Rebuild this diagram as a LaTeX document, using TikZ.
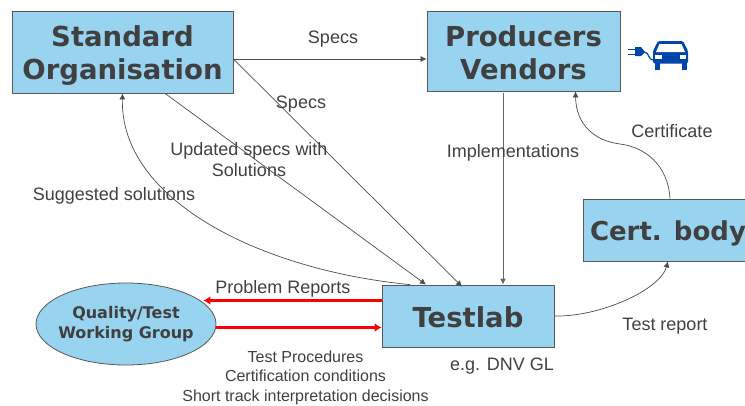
\documentclass[tikz,border=0pt]{standalone}
\usepackage{fontspec}
\setmainfont{Liberation Sans}
\newfontfamily\boxfont{DejaVu Sans}
\usepackage{xcolor}
\usetikzlibrary{shapes, arrows, arrows.meta, positioning, calc}
\definecolor{Boxblue}{RGB}{152, 212, 240}
\definecolor{Inktext}{RGB}{64, 64, 64}
\definecolor{Carblue}{RGB}{0, 70, 170}
\tikzset{
  bigbox/.style={draw=black!65, thick, fill=Boxblue, align=center, text=Inktext, font=\boxfont\bfseries\fontsize{27.5}{33}\selectfont, inner sep=0pt},
  groupbox/.style={ellipse, draw=black!65, thick, fill=Boxblue, align=center, text=Inktext, font=\boxfont\bfseries\fontsize{16}{20}\selectfont, inner xsep=-5pt, inner ysep=0pt},
  flow/.style={draw=black!70, line width=0.7pt, -{Latex[length=6pt,width=6pt]}},
  redflow/.style={draw=red, line width=2.6pt, -{Latex[length=7pt,width=9pt]}},
  lbl/.style={text=Inktext, font=\fontsize{18}{21}\selectfont, align=center, inner sep=0pt},
  smalllbl/.style={text=Inktext, font=\fontsize{16}{19.5}\selectfont, align=center, inner sep=0pt},
}
\begin{document}
\begin{tikzpicture}[x=1pt, y=-1pt]
  \useasboundingbox (0,0) rectangle (745,405);
  % Boxes
  \node[bigbox, minimum width=221pt, minimum height=82pt] (standard) at (122.5,52) {\rule{0pt}{28.5pt}Standard\\Organisation};
  \node[bigbox, minimum width=193pt, minimum height=80pt] (producers) at (523.5,51) {\rule{0pt}{24pt}Producers\\Vendors};
  \node[bigbox, minimum width=172pt, minimum height=62pt] (testlab) at (468,316) {\rule{0pt}{24pt}Testlab};
  \node[bigbox, minimum width=170pt, minimum height=62pt, font=\boxfont\bfseries\fontsize{26}{31}\selectfont] (cert) at (668,230) {\rule{0pt}{26pt}Cert. body};
  \node[groupbox, minimum width=180pt, minimum height=82pt] (group) at (126,324) {Quality/Test\\Working Group};
  % Arrows
  \draw[flow] ([yshift=-7pt]standard.east) -- ([yshift=-8pt]producers.west);
  \draw[flow] ([yshift=-7pt]standard.east) -- ([xshift=-6pt,yshift=-2pt]testlab.north);
  \draw[flow] ([xshift=42.5pt]standard.south) -- ([xshift=-42pt]testlab.north);
  \draw[flow] ([xshift=-58pt]testlab.north) .. controls (260,270) and (120,200) .. (standard.south);
  \draw[flow, line width=1pt, draw=black!60] ([xshift=-20.5pt,yshift=-2pt]producers.south) -- ([xshift=35pt]testlab.north);
  \draw[flow] ([xshift=2pt]cert.north) .. controls (668,165) and (645,147) .. (620,144) .. controls (595,141) and (576,125) .. ([xshift=52pt]producers.south);
  \draw[flow] (testlab.east) .. controls (600,317) and (660,290) .. (cert.south);
  \draw[redflow] ([yshift=15.5pt]testlab.west) -- ([xshift=-13pt,yshift=23.5pt]group.east);
  \draw[redflow] ([yshift=-3.5pt]group.east) -- ([yshift=-11.5pt]testlab.west);
  % Labels
  \node[lbl] (specsa) at (333,39) {Specs};
  \node[lbl] (specsb) at (301,104) {Specs};
  \node[lbl] (updated) at (249,160) {Updated specs with\\Solutions};
  \node[lbl] (suggested) at (114,196) {Suggested solutions};
  \node[lbl] (impl) at (513,153) {Implementations};
  \node[lbl] (certificate) at (672,131) {Certificate};
  \node[lbl] (problem) at (283,289) {Problem Reports};
  \node[lbl] (report) at (665,326) {Test report};
  \node[lbl] (dnv) at (502,366) {e.g. DNV GL};
  \node[smalllbl] (proc) at (305.5,377.5) {Test Procedures\\Certification conditions\\Short track interpretation decisions};
  % Car with plug
  \begin{scope}[Carblue]
    \fill (628,48.5) rectangle (635,50);
    \fill (628,53.5) rectangle (635,55);
    \fill (635,47) -- (641,47) -- (645,52) -- (641,56) -- (635,56) -- cycle;
    \draw[line width=1.2pt] (644,52) .. controls (650,52) and (647,60) .. (654,60);
    \fill[rounded corners=1.5pt] (653,63.5) -- (653,51) -- (658,41) -- (683,41) -- (688,51) -- (688,63.5) -- cycle;
    \fill[white] (659.5,44) -- (681.5,44) -- (685,52) -- (656,52) -- cycle;
    \fill[white] (655,55) rectangle (662,58.5);
    \fill[white] (680,55) rectangle (686,58.5);
    \fill (655,63) rectangle (660,70);
    \fill (682,63) rectangle (687,70);
  \end{scope}
\end{tikzpicture}
\end{document}
